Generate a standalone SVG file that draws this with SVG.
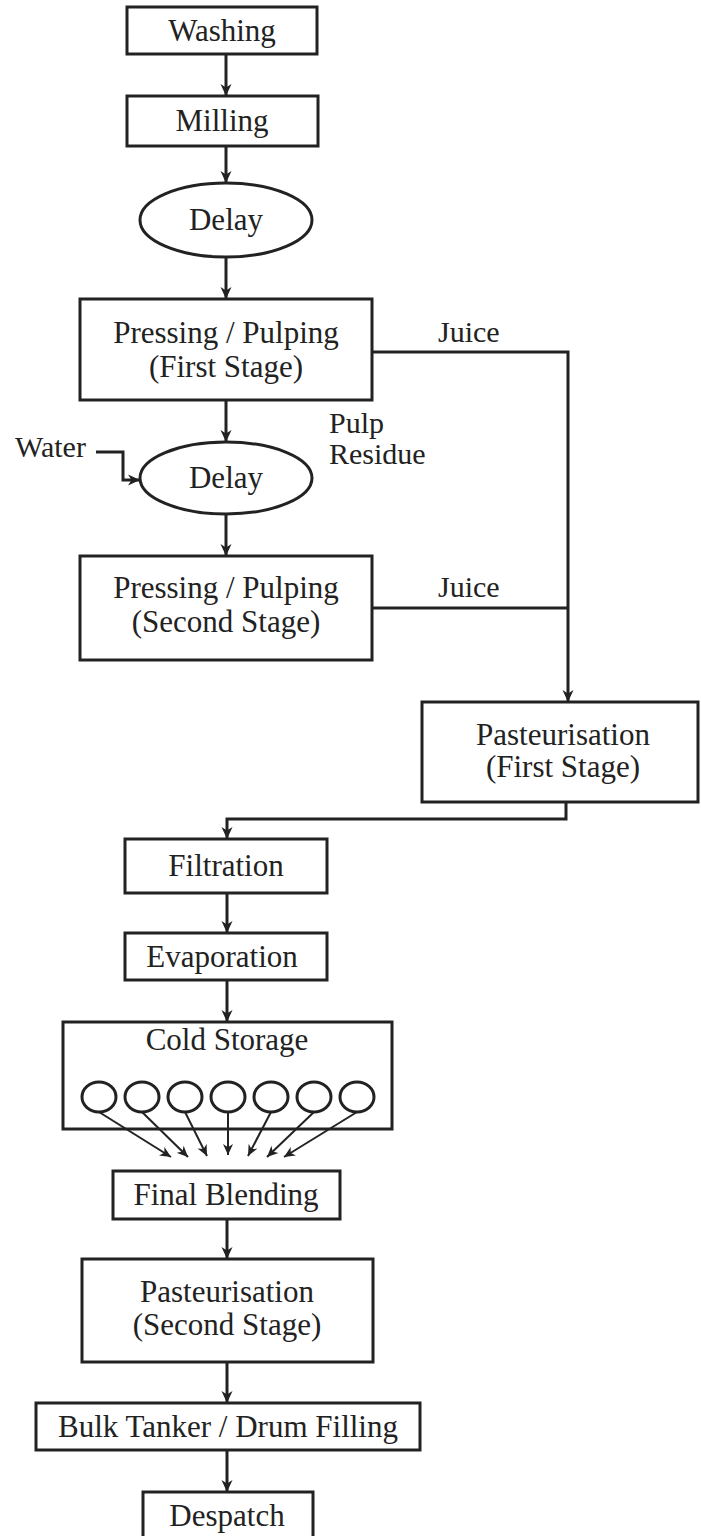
<svg xmlns="http://www.w3.org/2000/svg" width="701" height="1536" viewBox="0 0 701 1536">
<defs>
<style>
.n{fill:#fff;stroke:#222;stroke-width:3}
.t{font-family:"Liberation Serif","Times New Roman",serif;font-size:31px;fill:#222;text-anchor:middle}
.l{font-family:"Liberation Serif","Times New Roman",serif;font-size:30px;fill:#222}
.c{fill:none;stroke:#222;stroke-width:3}
.c2{fill:none;stroke:#222;stroke-width:2}
</style>
<marker id="ah" viewBox="0 0 12 12" refX="12" refY="6" markerWidth="12" markerHeight="12" orient="auto" markerUnits="userSpaceOnUse">
<path d="M0,0.5 L12,6 L0,11.5 L3.5,6 z" fill="#222"/>
</marker>
<marker id="as" viewBox="0 0 12 12" refX="12" refY="6" markerWidth="11" markerHeight="11" orient="auto" markerUnits="userSpaceOnUse">
<path d="M0,0.5 L12,6 L0,11.5 L3.5,6 z" fill="#222"/>
</marker>
</defs>
<rect width="701" height="1536" fill="#fff"/>

<g id="washing"><rect class="n" x="127" y="7" width="190" height="47"/><text class="t" x="222" y="41">Washing</text></g>
<g id="milling"><rect class="n" x="127" y="96" width="191" height="50"/><text class="t" x="222" y="131">Milling</text></g>
<g id="delay1"><ellipse class="n" cx="226" cy="220" rx="86" ry="37"/><text class="t" x="226" y="230">Delay</text></g>
<g id="pressing1"><rect class="n" x="80" y="299" width="292" height="101"/><text class="t" x="226" y="343">Pressing / Pulping</text><text class="t" x="226" y="377">(First Stage)</text></g>
<g id="delay2"><ellipse class="n" cx="226" cy="478" rx="86" ry="36"/><text class="t" x="226" y="488">Delay</text></g>
<g id="pressing2"><rect class="n" x="80" y="556" width="292" height="104"/><text class="t" x="226" y="598">Pressing / Pulping</text><text class="t" x="226" y="632">(Second Stage)</text></g>
<g id="pasteurisation1"><rect class="n" x="422" y="702" width="276" height="100"/><text class="t" x="563" y="745">Pasteurisation</text><text class="t" x="563" y="777">(First Stage)</text></g>
<g id="filtration"><rect class="n" x="125" y="839" width="202" height="54"/><text class="t" x="226" y="876">Filtration</text></g>
<g id="evaporation"><rect class="n" x="125" y="933" width="202" height="47"/><text class="t" x="222" y="967">Evaporation</text></g>
<g id="cold-storage"><rect class="n" x="63" y="1022" width="329" height="107"/><text class="t" x="227" y="1050">Cold Storage</text>
<ellipse class="n" cx="99" cy="1097" rx="17" ry="15"/>
<ellipse class="n" cx="142" cy="1097" rx="17" ry="15"/>
<ellipse class="n" cx="185" cy="1097" rx="17" ry="15"/>
<ellipse class="n" cx="228" cy="1097" rx="17" ry="15"/>
<ellipse class="n" cx="271" cy="1097" rx="17" ry="15"/>
<ellipse class="n" cx="314" cy="1097" rx="17" ry="15"/>
<ellipse class="n" cx="357" cy="1097" rx="17" ry="15"/>
</g>
<g id="final-blending"><rect class="n" x="113" y="1171" width="227" height="48"/><text class="t" x="226" y="1205">Final Blending</text></g>
<g id="pasteurisation2"><rect class="n" x="82" y="1259" width="291" height="103"/><text class="t" x="227" y="1302">Pasteurisation</text><text class="t" x="227" y="1335">(Second Stage)</text></g>
<g id="bulk-filling"><rect class="n" x="36" y="1403" width="384" height="47"/><text class="t" x="228" y="1437">Bulk Tanker / Drum Filling</text></g>
<g id="despatch"><rect class="n" x="143" y="1492" width="170" height="60"/><text class="t" x="227" y="1526">Despatch</text></g>

<g id="labels">
<text class="l" x="438" y="342">Juice</text>
<text class="l" x="438" y="597">Juice</text>
<text class="l" x="329" y="433">Pulp</text>
<text class="l" x="329" y="464">Residue</text>
<text class="l" x="15" y="457">Water</text>
</g>

<g id="connectors">
<line class="c" x1="226" y1="54" x2="226" y2="96" marker-end="url(#ah)"/>
<line class="c" x1="226" y1="146" x2="226" y2="183" marker-end="url(#ah)"/>
<line class="c" x1="226" y1="257" x2="226" y2="299" marker-end="url(#ah)"/>
<line class="c" x1="226" y1="400" x2="226" y2="442" marker-end="url(#ah)"/>
<polyline class="c" points="96,452 123,452 123,480 140,480" marker-end="url(#ah)"/>
<line class="c" x1="226" y1="514" x2="226" y2="556" marker-end="url(#ah)"/>
<polyline class="c" points="372,352 568,352 568,702" marker-end="url(#ah)"/>
<line class="c" x1="372" y1="608" x2="568" y2="608"/>
<polyline class="c" points="566,802 566,819 227,819 227,839" marker-end="url(#ah)"/>
<line class="c" x1="227" y1="893" x2="227" y2="933" marker-end="url(#ah)"/>
<line class="c" x1="227" y1="980" x2="227" y2="1022" marker-end="url(#ah)"/>
<line class="c2" x1="99" y1="1112" x2="171" y2="1157" marker-end="url(#as)"/>
<line class="c2" x1="142" y1="1112" x2="188" y2="1157" marker-end="url(#as)"/>
<line class="c2" x1="185" y1="1112" x2="207" y2="1156" marker-end="url(#as)"/>
<line class="c2" x1="228" y1="1112" x2="228" y2="1155" marker-end="url(#as)"/>
<line class="c2" x1="271" y1="1112" x2="248" y2="1156" marker-end="url(#as)"/>
<line class="c2" x1="314" y1="1112" x2="267" y2="1157" marker-end="url(#as)"/>
<line class="c2" x1="357" y1="1112" x2="284" y2="1157" marker-end="url(#as)"/>
<line class="c" x1="227" y1="1219" x2="227" y2="1259" marker-end="url(#ah)"/>
<line class="c" x1="227" y1="1362" x2="227" y2="1403" marker-end="url(#ah)"/>
<line class="c" x1="227" y1="1450" x2="227" y2="1492" marker-end="url(#ah)"/>
</g>
</svg>
